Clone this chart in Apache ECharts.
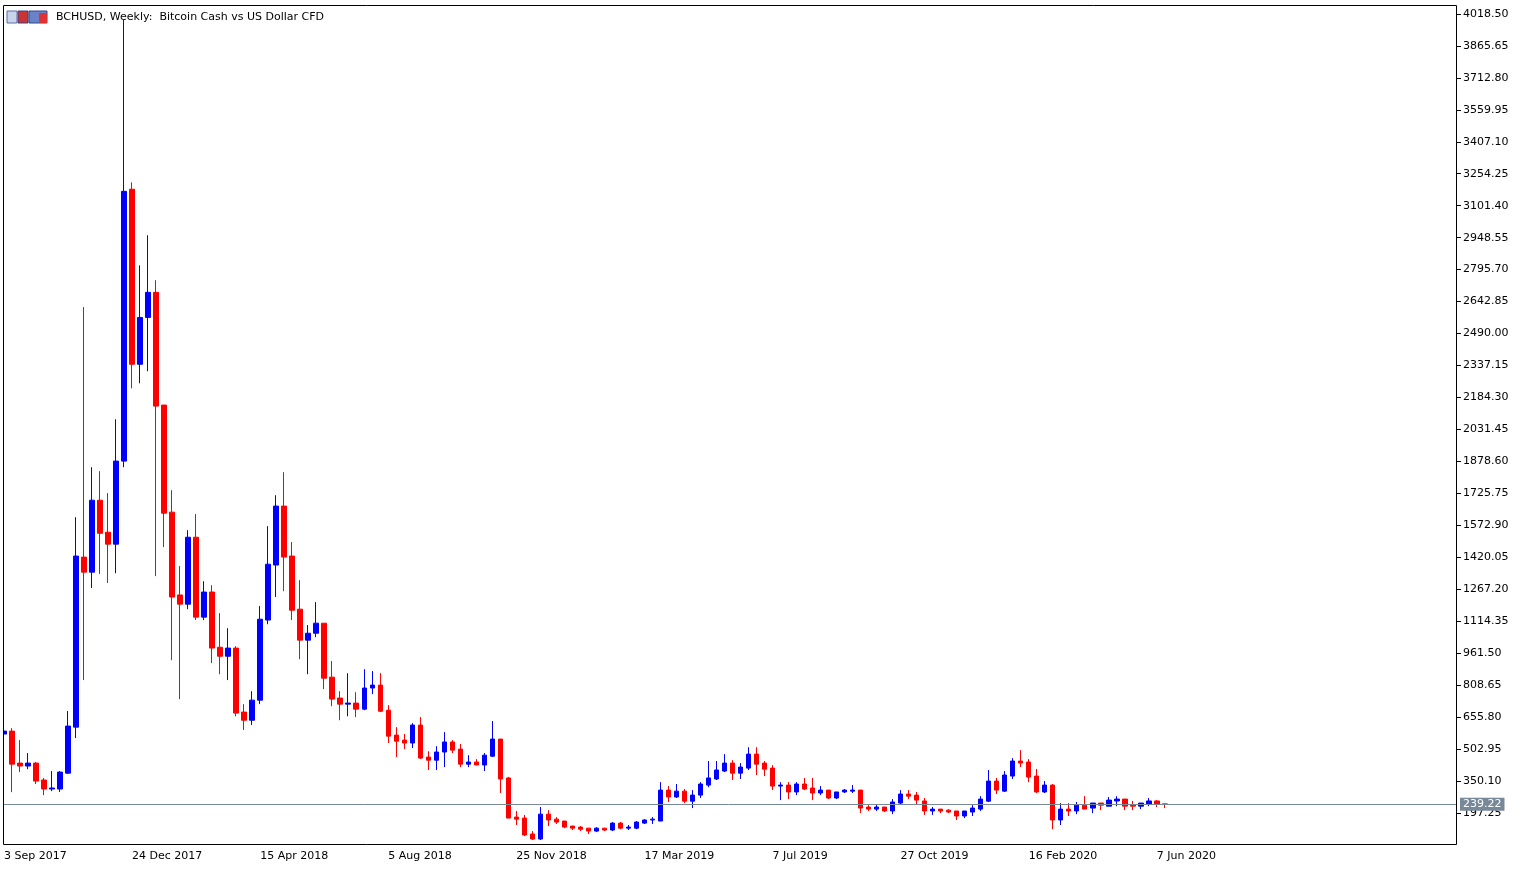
<!DOCTYPE html>
<html>
<head>
<meta charset="utf-8">
<script src="https://cdn.jsdelivr.net/npm/echarts@6/dist/echarts.min.js"></script>
<style>
  html, body { margin: 0; padding: 0; background: #fff; }
  #chart { width: 1521px; height: 871px; }
</style>
</head>
<body>
<div id="chart"></div>
<script>
// weekly candles, starting 3 Sep 2017: [open, close, low, high]
var candles = [
  [575, 589, 560, 600], [589, 431, 297, 603], [436, 422, 393, 546], [422, 436, 407, 484],
  [436, 350, 336, 441], [355, 312, 283, 365], [312, 317, 302, 398], [312, 393, 298, 398],
  [388, 613, 384, 685], [608, 1426, 556, 1612], [1421, 1349, 833, 2617], [1349, 1693, 1273, 1851],
  [1693, 1535, 1340, 1832], [1540, 1483, 1297, 1727], [1483, 1880, 1344, 2080], [1880, 3170, 1851, 3990],
  [3180, 2343, 2228, 3213], [2343, 2567, 2252, 2816], [2567, 2687, 2310, 2960], [2687, 2143, 1330, 2745],
  [2148, 1631, 1469, 2148], [1636, 1230, 928, 1741], [1240, 1196, 742, 1378], [1196, 1516, 1172, 1550],
  [1516, 1134, 1120, 1627], [1134, 1254, 1120, 1306], [1254, 986, 914, 1287], [990, 947, 861, 1153],
  [947, 986, 833, 1081], [986, 675, 660, 995], [680, 641, 594, 718], [641, 737, 618, 780],
  [737, 1124, 718, 1187], [1120, 1387, 1100, 1569], [1383, 1665, 1230, 1717], [1665, 1421, 1258, 1827],
  [1426, 1167, 1120, 1493], [1172, 1024, 933, 1311], [1024, 1057, 861, 1096], [1057, 1105, 1038, 1206],
  [1105, 842, 790, 1105], [847, 742, 708, 924], [747, 718, 641, 780], [718, 723, 660, 866],
  [723, 694, 656, 775], [694, 795, 689, 885], [795, 809, 766, 876], [809, 684, 680, 866],
  [689, 565, 532, 713], [570, 541, 465, 608], [546, 532, 503, 575], [532, 618, 508, 627],
  [618, 460, 455, 656], [465, 450, 403, 493], [450, 489, 403, 517], [489, 537, 417, 584],
  [537, 498, 484, 546], [503, 431, 417, 527], [431, 441, 417, 474], [441, 427, 427, 455],
  [427, 474, 398, 484], [469, 551, 465, 637], [551, 360, 293, 551], [365, 173, 173, 370],
  [178, 168, 140, 207], [173, 92, 87, 188], [97, 73, 68, 111], [73, 192, 68, 226],
  [192, 164, 135, 211], [168, 154, 145, 178], [159, 130, 125, 159], [135, 125, 116, 135],
  [130, 120, 111, 135], [125, 111, 97, 125], [111, 125, 106, 130], [125, 116, 111, 125],
  [116, 149, 111, 154], [149, 125, 120, 154], [125, 130, 116, 140], [125, 154, 120, 159],
  [149, 164, 145, 168], [164, 168, 145, 178], [159, 307, 159, 345], [307, 274, 250, 326],
  [274, 302, 269, 336], [302, 254, 245, 312], [254, 283, 221, 307], [283, 336, 269, 345],
  [331, 365, 321, 446], [360, 403, 355, 446], [398, 436, 393, 479], [436, 388, 355, 450],
  [388, 417, 360, 436], [412, 479, 403, 512], [479, 431, 379, 512], [436, 407, 374, 446],
  [412, 326, 307, 426], [326, 331, 259, 345], [331, 298, 264, 345], [298, 336, 283, 345],
  [336, 312, 307, 365], [317, 293, 259, 365], [293, 307, 283, 326], [307, 269, 264, 307],
  [269, 298, 264, 298], [298, 307, 293, 312], [302, 307, 293, 331], [307, 221, 197, 307],
  [226, 216, 207, 235], [216, 226, 207, 240], [226, 207, 202, 226], [207, 250, 192, 264],
  [245, 288, 240, 307], [288, 278, 264, 307], [283, 259, 240, 298], [255, 207, 188, 269],
  [207, 216, 188, 226], [216, 207, 197, 216], [211, 202, 197, 216], [207, 183, 164, 207],
  [183, 207, 173, 207], [202, 221, 183, 235], [216, 264, 207, 278], [254, 350, 250, 403],
  [350, 307, 288, 365], [302, 379, 298, 398], [374, 446, 360, 460], [446, 436, 417, 498],
  [441, 369, 345, 455], [374, 298, 293, 408], [298, 331, 293, 350], [331, 164, 120, 336],
  [164, 216, 140, 245], [216, 207, 183, 245], [207, 235, 192, 250], [235, 216, 216, 278],
  [221, 245, 197, 245], [245, 235, 211, 245], [230, 259, 230, 274], [255, 264, 230, 278],
  [264, 230, 211, 264], [235, 230, 211, 255], [230, 245, 216, 245], [240, 255, 230, 269],
  [255, 240, 226, 259], [241, 239, 221, 241]
];
var emptySlots = 36;
// a date label every 16 weeks
var tickLabels = ['3 Sep 2017', '24 Dec 2017', '15 Apr 2018', '5 Aug 2018', '25 Nov 2018',
  '17 Mar 2019', '7 Jul 2019', '27 Oct 2019', '16 Feb 2020', '7 Jun 2020'];
var lastPrice = 239.22;

var categories = [];
for (var i = 0; i < candles.length + emptySlots; i++) {
  categories.push(i % 16 === 0 && tickLabels[i / 16] ? tickLabels[i / 16] : '');
}

var font = 'Tahoma, "DejaVu Sans", sans-serif';
var chart = echarts.init(document.getElementById('chart'));
chart.setOption({
  animation: false,
  backgroundColor: '#fff',
  grid: { left: 0, right: 64, top: 5, bottom: 26, show: false },
  graphic: [
    { type: 'rect', z: 100, shape: { x: 3.5, y: 5.5, width: 1453, height: 839 },
      style: { fill: null, stroke: '#000', lineWidth: 1 } },
    { type: 'rect', z: 99, shape: { x: 0, y: 0, width: 3, height: 871 }, style: { fill: '#fff' } },
    { type: 'rect', shape: { x: 7, y: 11, width: 10, height: 12 }, style: { fill: '#c8d4ec', stroke: '#5a6fa8' } },
    { type: 'rect', shape: { x: 18, y: 11, width: 10, height: 12 }, style: { fill: '#cc3333', stroke: '#334488' } },
    { type: 'rect', shape: { x: 29, y: 11, width: 18, height: 12 }, style: { fill: '#6a82c8', stroke: '#334488' } },
    { type: 'rect', shape: { x: 39, y: 13, width: 8, height: 10 }, style: { fill: '#dd3333' } },
    { type: 'text', left: 56, top: 12,
      style: { text: 'BCHUSD, Weekly:  Bitcoin Cash vs US Dollar CFD', font: '11px ' + font, fill: '#000' } }
  ],
  xAxis: {
    type: 'category',
    data: categories,
    boundaryGap: true,
    axisLine: { show: false },
    axisTick: { show: false },
    splitLine: { show: false },
    axisLabel: { interval: 0, align: 'left', margin: 6, fontSize: 11, fontFamily: font, color: '#000' }
  },
  yAxis: {
    type: 'value',
    position: 'right',
    min: 44.4,
    max: 4061,
    interval: 152.85,
    scale: true,
    axisLine: { show: false },
    axisTick: { show: true, length: 4, lineStyle: { color: '#000' } },
    splitLine: { show: false },
    axisLabel: {
      showMinLabel: false, showMaxLabel: false, margin: 6,
      fontSize: 11, fontFamily: font, color: '#000',
      formatter: function (v) { return v.toFixed(2); }
    }
  },
  series: [{
    type: 'candlestick',
    data: candles,
    barWidth: 5,
    itemStyle: { color: '#0000ff', color0: '#ff0000', borderColor: '#0000ff', borderColor0: '#ff0000', borderWidth: 1 },
    markLine: {
      symbol: 'none',
      silent: true,
      lineStyle: { color: '#778899', type: 'solid', width: 1 },
      label: {
        position: 'end', distance: 3, formatter: lastPrice.toFixed(2),
        color: '#fff', backgroundColor: '#778899', padding: [1, 3], fontSize: 11, fontFamily: font
      },
      data: [{ yAxis: lastPrice }]
    }
  }]
});
</script>
</body>
</html>
